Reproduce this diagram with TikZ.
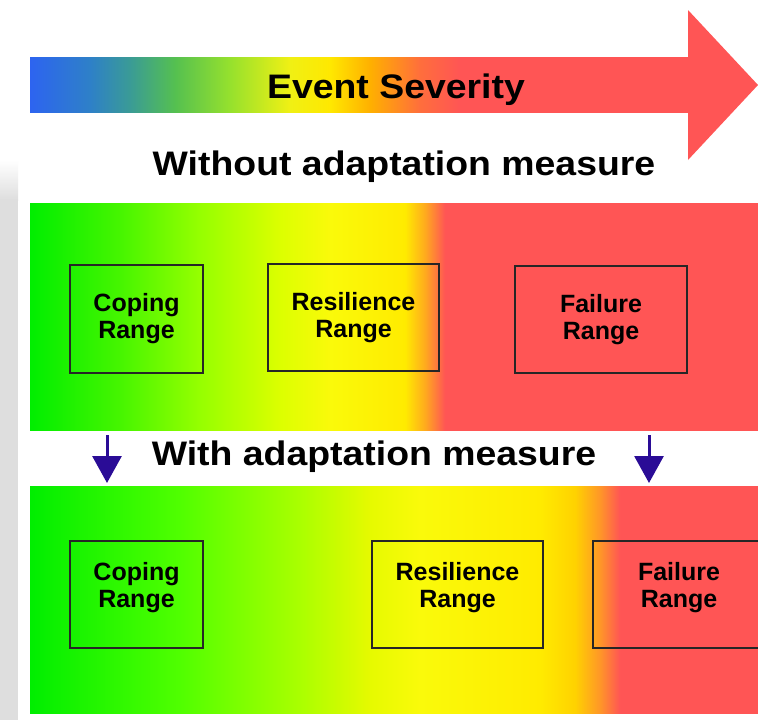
\documentclass[tikz,border=0pt]{standalone}
\usepackage{fontspec}
\setmainfont{Liberation Sans}
\usetikzlibrary{arrows.meta}
\definecolor{sevred}{RGB}{255,85,85}
\definecolor{ablue}{RGB}{42,12,150}
% arrow shaft colours
\definecolor{s0}{RGB}{45,100,240}
\definecolor{s1}{RGB}{46,128,200}
\definecolor{s2}{RGB}{58,155,150}
\definecolor{s3}{RGB}{85,192,80}
\definecolor{s4}{RGB}{150,225,45}
\definecolor{s5}{RGB}{240,240,20}
\definecolor{s6}{RGB}{255,232,0}
\definecolor{s7}{RGB}{255,176,0}
\definecolor{s8}{RGB}{255,110,60}
% panel colours
\definecolor{g0}{RGB}{0,238,0}
\definecolor{g1}{RGB}{70,245,0}
\definecolor{g2}{RGB}{150,255,0}
\definecolor{g3}{RGB}{220,255,0}
\definecolor{g4}{RGB}{250,250,10}
\definecolor{g5}{RGB}{255,235,0}
\definecolor{g6}{RGB}{255,170,30}
\definecolor{h1}{RGB}{80,255,0}
\definecolor{h2}{RGB}{170,255,0}
\definecolor{h3}{RGB}{230,250,0}
\definecolor{h4}{RGB}{255,210,0}
\definecolor{h5}{RGB}{255,150,40}
\definecolor{wm}{RGB}{222,222,222}
\pgfdeclarehorizontalshading{shaftshade}{100bp}{color(0bp)=(s0); color(25bp)=(s0); color(29.48bp)=(s1); color(32.46bp)=(s2); color(35.82bp)=(s3); color(39.93bp)=(s4); color(44.40bp)=(s5); color(47.39bp)=(s6); color(50.37bp)=(s7); color(54.10bp)=(s8); color(57.09bp)=(sevred); color(100bp)=(sevred)}
\pgfdeclarehorizontalshading{topshade}{100bp}{color(0bp)=(g0); color(25bp)=(g0); color(31.18bp)=(g1); color(36.68bp)=(g2); color(42.17bp)=(g3); color(45.60bp)=(g4); color(50.75bp)=(g5); color(52.13bp)=(g6); color(53.50bp)=(sevred); color(100bp)=(sevred)}
\pgfdeclarehorizontalshading{botshade}{100bp}{color(0bp)=(g0); color(25bp)=(g0); color(35.30bp)=(h1); color(43.54bp)=(h2); color(48.35bp)=(h3); color(51.79bp)=(g4); color(60.03bp)=(g5); color(62.43bp)=(h4); color(64.15bp)=(h5); color(65.52bp)=(sevred); color(100bp)=(sevred)}
\tikzset{
  rangebox/.style={draw=black!85, line width=1.8pt, inner sep=0pt, align=center,
    font=\fontsize{25}{27}\selectfont\bfseries},
  heading/.style={anchor=base, inner sep=0pt, font=\fontsize{34}{38}\selectfont\bfseries},
  adaptarrow/.style={draw=ablue, line width=3pt, -{Triangle[length=27pt,width=29pt]}, ablue}
}
\begin{document}
\begin{tikzpicture}[x=1pt,y=-1pt]
\useasboundingbox (0,0) rectangle (758,720);
\clip (0,0) rectangle (758,720);
\fill[white] (0,0) rectangle (758,720);
% faint grey watermark on left edge
\shade[top color=white, bottom color=wm] (0,160) rectangle (18,200);
\fill[wm] (0,199) rectangle (18,720);
% severity arrow
\shade[shading=shaftshade] (30,57) rectangle (700,112);
\fill[sevred] (688,10) -- (758,85) -- (688,160) -- cycle;
\node[heading] (sev) at (396,98) {\scalebox{1.1}[1]{Event Severity}};
\node[heading] (without) at (404,175) {\scalebox{1.1}[1]{Without adaptation measure}};
% top panel
\shade[shading=topshade] (30,203) rectangle (758,430);
\node[rangebox, minimum width=133pt, minimum height=108pt] (tcope) at (136.5,319) {Coping\\Range};
\node[rangebox, minimum width=171pt, minimum height=107pt] (tres) at (353.5,317.5) {Resilience\\Range};
\node[rangebox, minimum width=172pt, minimum height=107pt] (tfail) at (601,319.5) {Failure\\Range};
% middle
\node[heading] (with) at (374,465) {\scalebox{1.1}[1]{With adaptation measure}};
\coordinate (la1) at (107,435);
\coordinate (la2) at (107,483);
\coordinate (ra1) at (649,435);
\coordinate (ra2) at (649,483);
\draw[adaptarrow] (la1) -- (la2);
\draw[adaptarrow] (ra1) -- (ra2);
% bottom panel
\shade[shading=botshade] (30,486) rectangle (758,713);
\node[rangebox, minimum width=133pt, minimum height=107pt] (bcope) at (136.5,594.5) {Coping\\Range\\[-8pt]};
\node[rangebox, minimum width=171pt, minimum height=107pt] (bres) at (457.5,594.5) {Resilience\\Range\\[-8pt]};
\node[rangebox, minimum width=172pt, minimum height=107pt] (bfail) at (679,594.5) {Failure\\Range\\[-8pt]};
\end{tikzpicture}
\end{document}
